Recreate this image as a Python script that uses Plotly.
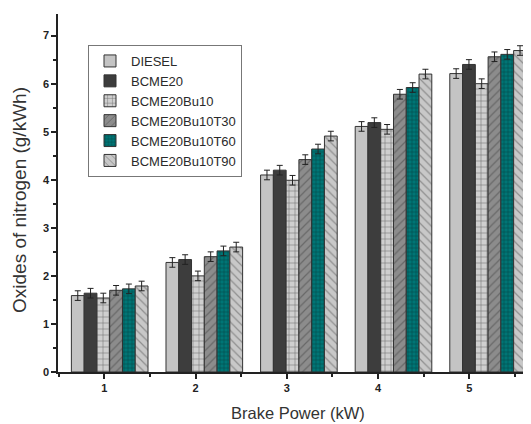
import plotly.graph_objects as go

power = [1, 2, 3, 4, 5]
tick_labels = ["1", "2", "3", "4", "5"]

diesel = [1.59, 2.28, 4.10, 5.11, 6.21]
bcme20 = [1.64, 2.34, 4.20, 5.19, 6.40]
bu10 = [1.54, 2.00, 3.99, 5.05, 6.00]
t30 = [1.70, 2.40, 4.42, 5.78, 6.56]
t60 = [1.73, 2.52, 4.64, 5.92, 6.61]
t90 = [1.79, 2.60, 4.91, 6.20, 6.69]
err = [0.10, 0.10, 0.10, 0.10, 0.10]

series = [
    ("DIESEL", diesel, "#c4c4c4", "", "#000000", 6, 0.2),
    ("BCME20", bcme20, "#3d3d3d", "", "#000000", 6, 0.2),
    ("BCME20Bu10", bu10, "#cfcfcf", "+", "#111111", 6, 0.18),
    ("BCME20Bu10T30", t30, "#8c8c8c", "/", "#444444", 6, 0.2),
    ("BCME20Bu10T60", t60, "#007575", "+", "#062626", 4, 0.3),
    ("BCME20Bu10T90", t90, "#c8c8c8", "\\", "#555555", 6, 0.2),
]

fig = go.Figure()
for name, vals, color, shape, fg, size, sol in series:
    pat = dict(shape=shape, fgcolor=fg, bgcolor=color, size=size, solidity=sol) if shape else dict(shape="")
    fig.add_trace(go.Bar(
        x=power, y=vals, name=name,
        marker=dict(color=color, line=dict(color="#333333", width=1), pattern=pat),
        error_y=dict(type="data", array=err, color="#222222", thickness=1, width=3),
    ))

# invisible trace to carry the tick axis
fig.add_trace(go.Scatter(x=[power[0]], y=[0], xaxis="x2", mode="markers",
                         marker=dict(opacity=0), showlegend=False, hoverinfo="skip"))

# page body has an 8px margin; figure spans window x 8..531, y 8..424
fig.update_layout(
    width=523, height=416,
    margin=dict(l=50, r=0, t=6, b=52),
    paper_bgcolor="white", plot_bgcolor="white",
    barmode="group", bargap=0.19, bargroupgap=0,
    font=dict(family="Liberation Sans, Arial", color="#222222"),
    showlegend=True,
    legend=dict(
        x=(88 - 58) / 473, y=(372 - 45) / 358, xanchor="left", yanchor="top",
        bgcolor="white", bordercolor="#777777", borderwidth=1,
        font=dict(size=13, color="#2a2a2a"),
        tracegroupgap=0, itemwidth=32,
    ),
    xaxis=dict(
        range=[0.4535, 5.4535], showticklabels=False, ticks="",
        showline=True, linecolor="#222222", linewidth=1.5,
        showgrid=False, zeroline=False, automargin=False,
    ),
    xaxis2=dict(
        overlaying="x", anchor="y", side="bottom",
        range=[0.4926, 5.676], tickvals=power, ticktext=tick_labels,
        ticks="outside", ticklen=6, tickwidth=1.5, tickcolor="#222222",
        tickfont=dict(size=11, family="Liberation Sans, Arial", color="#222222", weight="bold"),
        minor=dict(dtick=0.5, tick0=0.5, ticks="outside", ticklen=4, tickcolor="#222222"),
        showgrid=False, zeroline=False, showline=False, automargin=False,
    ),
    yaxis=dict(
        range=[0, 7.45], tickvals=[0, 1, 2, 3, 4, 5, 6, 7],
        ticks="outside", ticklen=5, tickwidth=1.5, tickcolor="#222222",
        tickfont=dict(size=11, family="Liberation Sans, Arial", color="#222222", weight="bold"),
        minor=dict(dtick=0.5, ticks="outside", ticklen=3, tickcolor="#222222"),
        showline=True, linecolor="#222222", linewidth=1.5,
        showgrid=False, zeroline=False, automargin=False,
    ),
    annotations=[
        dict(text="Oxides of nitrogen (g/kWh)", textangle=-90, xref="paper", yref="paper",
             x=(20 - 58) / 473, y=(372 - 200) / 358, xanchor="center", yanchor="middle",
             showarrow=False, font=dict(size=19, color="#333333")),
        dict(text="Brake Power (kW)", xref="paper", yref="paper",
             x=(298 - 58) / 473, y=-(413 - 372) / 358, xanchor="center", yanchor="middle",
             showarrow=False, font=dict(size=16.5, color="#333333")),
    ],
)

fig.write_html("out.html")
